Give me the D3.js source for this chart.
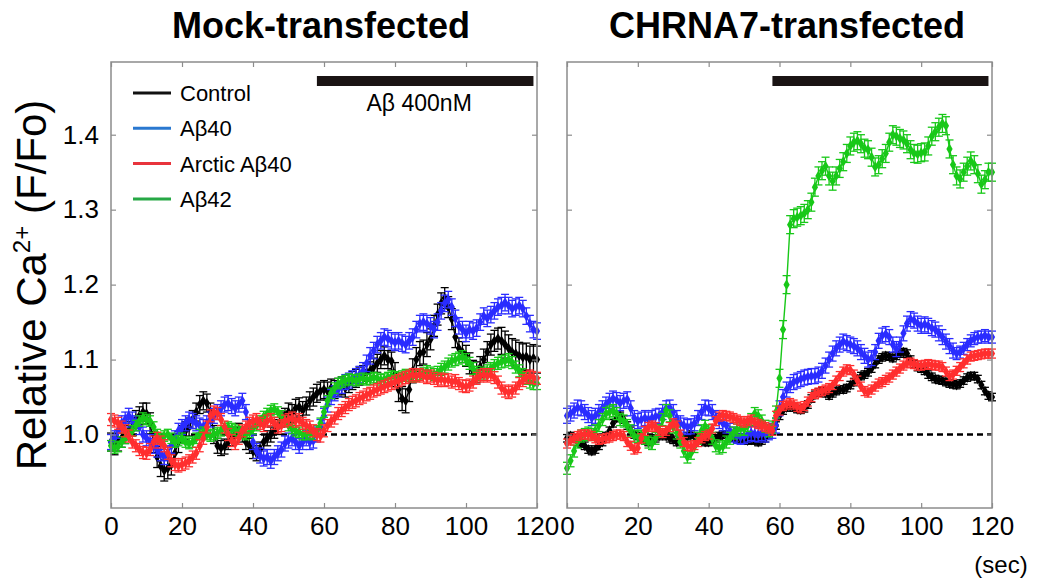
<!DOCTYPE html>
<html>
<head>
<meta charset="utf-8">
<script src="https://cdn.jsdelivr.net/npm/d3@7"></script>
<style>
  body { margin: 0; background: #fff; }
  svg { display: block; font-family: "Liberation Sans", Arial, sans-serif; }
</style>
</head>
<body>
<svg id="chart" width="1039" height="579"></svg>
<script>
// sampling grid: one reading per second, 0..120 s
const timeSec = d3.range(0, 121)
const xTicks = [0, 20, 40, 60, 80, 100, 120]
const yTicks = [1.0, 1.1, 1.2, 1.3, 1.4]
const panelTitles = ['Mock-transfected', 'CHRNA7-transfected']
const seriesNames = ['Control', 'Aβ40', 'Arctic Aβ40', 'Aβ42']
const stimStart = 58
const stimEnd = 119
const stimLabel = 'Aβ 400nM'

// Mock-transfected
const mockControl = [
  0.99, 0.985, 0.99, 0.995, 1.0, 1.005, 1.01, 1.02, 1.025, 1.03,
  1.028, 1.015, 0.99, 0.97, 0.958, 0.952, 0.955, 0.96, 0.975, 0.99,
  1.0, 1.005, 1.01, 1.02, 1.03, 1.04, 1.045, 1.042, 1.03, 1.0,
  0.985, 0.982, 0.984, 0.99, 0.995, 1.0, 1.005, 1.0, 0.99, 0.985,
  0.978, 0.975, 0.98, 0.99, 0.995, 1.0, 1.005, 1.01, 1.02, 1.025,
  1.03, 1.028, 1.035, 1.037, 1.032, 1.038, 1.045, 1.05, 1.055, 1.058,
  1.06, 1.058, 1.062, 1.06, 1.063, 1.065, 1.062, 1.068, 1.072, 1.075,
  1.078, 1.08, 1.083, 1.085, 1.09, 1.095, 1.1, 1.105, 1.1, 1.098,
  1.08, 1.06, 1.048, 1.045, 1.06, 1.085, 1.1, 1.108, 1.11, 1.12,
  1.127, 1.145, 1.16, 1.175, 1.182, 1.17, 1.154, 1.13, 1.115, 1.11,
  1.105, 1.095, 1.085, 1.083, 1.09, 1.1, 1.11, 1.12, 1.125, 1.128,
  1.125, 1.12, 1.115, 1.11, 1.108, 1.105, 1.103, 1.104, 1.1, 1.102,
  1.1
]
const mockAb40 = [
  0.99, 0.995, 1.005, 1.015, 1.02, 1.025, 1.02, 1.015, 1.01, 1.0,
  0.995, 0.99, 0.985, 0.98, 0.975, 0.97, 0.975, 0.985, 0.995, 1.005,
  1.01, 1.015, 1.02, 1.018, 1.015, 1.012, 1.01, 1.015, 1.02, 1.025,
  1.03, 1.035, 1.04, 1.042, 1.038, 1.035, 1.04, 1.045, 1.03, 1.01,
  0.99, 0.978, 0.972, 0.968, 0.97, 0.965, 0.97, 0.975, 0.98, 0.988,
  0.992, 0.995, 0.99, 0.985, 0.99, 0.995, 0.99, 0.992, 1.0, 1.01,
  1.025, 1.04, 1.05, 1.055, 1.06, 1.065, 1.07, 1.072, 1.075, 1.078,
  1.08, 1.085, 1.095, 1.105, 1.112, 1.12, 1.125, 1.13, 1.128, 1.125,
  1.123, 1.125, 1.122, 1.12, 1.125, 1.13, 1.14, 1.148, 1.15, 1.148,
  1.145, 1.14, 1.15, 1.165, 1.175, 1.18, 1.17, 1.155, 1.145, 1.14,
  1.135, 1.14, 1.138, 1.142, 1.15, 1.158, 1.155, 1.16, 1.165, 1.17,
  1.172, 1.176, 1.172, 1.168, 1.17, 1.172, 1.168, 1.158, 1.148, 1.14,
  1.138
]
const mockArctic = [
  1.02, 1.018, 1.015, 1.01, 1.005, 0.998, 0.99, 0.985, 0.98, 0.976,
  0.975, 0.98, 0.99, 0.995, 0.99, 0.985, 0.975, 0.965, 0.96, 0.958,
  0.96, 0.962, 0.965, 0.97, 0.975, 0.985, 0.995, 1.01, 1.025, 1.03,
  1.028, 1.02, 1.01, 1.0, 0.992, 0.988, 0.995, 1.005, 1.01, 1.015,
  1.018, 1.02, 1.015, 1.012, 1.018, 1.02, 1.015, 1.01, 1.012, 1.018,
  1.02, 1.022, 1.018, 1.02, 1.015, 1.012, 1.01, 1.005, 1.0, 0.998,
  1.005, 1.012, 1.018, 1.022, 1.028, 1.032, 1.036, 1.04, 1.043, 1.045,
  1.048, 1.05, 1.053, 1.055, 1.058, 1.06, 1.062, 1.064, 1.066, 1.068,
  1.07, 1.072, 1.074, 1.076, 1.078, 1.08, 1.078, 1.08, 1.078, 1.076,
  1.078, 1.075, 1.072, 1.074, 1.072, 1.073, 1.07, 1.072, 1.068, 1.065,
  1.064, 1.066, 1.07, 1.075, 1.078, 1.08, 1.078, 1.08, 1.076, 1.07,
  1.062, 1.058, 1.056, 1.058, 1.062, 1.068, 1.072, 1.076, 1.078, 1.076,
  1.075
]
const mockAb42 = [
  0.985, 0.982, 0.984, 0.99, 0.995, 1.0, 1.005, 1.012, 1.018, 1.022,
  1.02, 1.018, 1.01, 1.0, 0.995, 0.998, 1.0, 0.995, 0.99, 0.992,
  0.995, 0.99, 0.988, 0.99, 0.995, 1.0, 1.003, 1.0, 0.998, 1.0,
  1.002, 1.005, 1.008, 1.01, 1.008, 1.006, 1.004, 1.002, 1.0, 1.003,
  1.008, 1.012, 1.018, 1.024, 1.028, 1.032, 1.034, 1.03, 1.025, 1.018,
  1.012, 1.008, 1.005, 1.003, 1.0, 1.0, 1.002, 1.0, 1.005, 1.015,
  1.03, 1.045, 1.055, 1.062, 1.068, 1.07, 1.072, 1.074, 1.073, 1.072,
  1.074, 1.075, 1.073, 1.074, 1.076, 1.075, 1.073, 1.074, 1.076, 1.078,
  1.077, 1.076, 1.078, 1.08, 1.078, 1.077, 1.078, 1.08, 1.082, 1.085,
  1.082, 1.08, 1.083, 1.087, 1.09, 1.094, 1.098, 1.1, 1.102, 1.104,
  1.1, 1.095, 1.088, 1.083, 1.08, 1.082, 1.085, 1.088, 1.092, 1.095,
  1.097, 1.098, 1.1, 1.096, 1.09, 1.085, 1.08, 1.075, 1.07, 1.068,
  1.068
]

// CHRNA7-transfected
const chrnaControl = [
  0.995, 0.998, 0.995, 0.99, 0.988, 0.985, 0.98, 0.978, 0.98, 0.985,
  0.99, 0.998, 1.005, 1.015, 1.022, 1.025, 1.02, 1.012, 1.005, 1.0,
  0.998, 0.995, 0.992, 0.99, 0.993, 0.995, 0.998, 1.0, 0.998, 0.995,
  0.993, 0.99, 0.992, 0.995, 0.998, 1.0, 0.997, 0.995, 0.992, 0.99,
  0.99, 0.992, 0.995, 0.998, 1.0, 1.0, 0.998, 0.996, 0.995, 0.994,
  0.993, 0.992, 0.993, 0.992, 0.99, 0.992, 0.995, 1.0, 1.005, 1.012,
  1.025, 1.032, 1.036, 1.038, 1.036, 1.034, 1.033, 1.035, 1.04, 1.048,
  1.053, 1.056, 1.058, 1.055, 1.052, 1.055, 1.058, 1.06, 1.06, 1.062,
  1.066, 1.07, 1.074, 1.078, 1.08, 1.083, 1.088, 1.094, 1.1, 1.103,
  1.105, 1.104, 1.102, 1.105, 1.108, 1.11, 1.108, 1.1, 1.094, 1.09,
  1.088, 1.085, 1.08, 1.077, 1.074, 1.073, 1.072, 1.07, 1.068, 1.067,
  1.066, 1.068, 1.072, 1.076, 1.078, 1.078, 1.074, 1.066, 1.058, 1.052,
  1.05
]
const chrnaAb40 = [
  1.025, 1.028, 1.032, 1.036, 1.035, 1.03, 1.026, 1.022, 1.025, 1.03,
  1.035, 1.04, 1.045, 1.048, 1.046, 1.042, 1.045, 1.047, 1.035, 1.022,
  1.018, 1.02, 1.022, 1.02, 1.022, 1.024, 1.025, 1.03, 1.035, 1.036,
  1.03, 1.022, 1.015, 1.012, 1.01, 1.011, 1.015, 1.022, 1.03, 1.036,
  1.035, 1.03, 1.022, 1.018, 1.015, 1.012, 1.005, 1.0, 0.998, 0.997,
  0.998, 1.0, 1.002, 1.001, 1.0, 1.002, 1.0, 1.003, 1.005, 1.012,
  1.035, 1.05, 1.06, 1.066, 1.07, 1.072, 1.074, 1.076, 1.077, 1.078,
  1.078, 1.08, 1.085, 1.092, 1.1, 1.108, 1.115, 1.12, 1.124, 1.122,
  1.12, 1.118, 1.115, 1.11, 1.105, 1.1, 1.102, 1.11, 1.125, 1.132,
  1.134, 1.13, 1.12, 1.114, 1.12, 1.135, 1.148, 1.154, 1.152, 1.148,
  1.145, 1.147, 1.145, 1.142, 1.14, 1.135, 1.13, 1.124, 1.118, 1.112,
  1.108, 1.11, 1.115, 1.12, 1.125, 1.128, 1.13, 1.13, 1.132, 1.13,
  1.13
]
const chrnaArctic = [
  0.988, 0.992, 0.995, 0.998, 1.0, 1.0, 1.0, 0.998, 0.995, 0.993,
  0.994, 0.995, 0.996, 0.998, 1.0, 1.0, 0.998, 0.99, 0.985, 0.98,
  0.982, 0.995, 1.005, 1.01, 1.012, 1.01, 1.005, 1.002, 1.005, 1.01,
  1.015, 1.012, 1.0, 0.99, 0.985, 0.984, 0.986, 0.99, 0.995, 0.998,
  1.0, 1.008, 1.018, 1.024, 1.026, 1.025, 1.024, 1.022, 1.02, 1.018,
  1.016, 1.018, 1.02, 1.016, 1.014, 1.012, 1.01, 1.008, 1.005, 1.025,
  1.032, 1.038, 1.04, 1.042, 1.04, 1.037, 1.035, 1.038, 1.044, 1.05,
  1.054, 1.056, 1.058, 1.06, 1.062, 1.066, 1.072, 1.078, 1.084, 1.087,
  1.086, 1.08, 1.072, 1.064, 1.058, 1.056, 1.06, 1.064, 1.068, 1.07,
  1.073, 1.076, 1.08, 1.084, 1.088, 1.092, 1.095, 1.096, 1.094, 1.092,
  1.092, 1.093, 1.094, 1.093, 1.092, 1.092, 1.09, 1.084, 1.078, 1.08,
  1.085, 1.09, 1.095, 1.1, 1.104, 1.105, 1.106, 1.107, 1.108, 1.108,
  1.108
]
const chrnaAb42 = [
  0.955, 0.965, 0.978, 0.99, 0.998, 1.0, 1.002, 1.0, 1.005, 1.012,
  1.02, 1.028, 1.03, 1.032, 1.028, 1.02, 1.018, 1.012, 1.005, 0.998,
  0.997, 0.998, 0.995, 0.99, 0.988, 0.995, 1.005, 1.02, 1.032, 1.025,
  1.01, 1.002, 0.99, 0.978, 0.97, 0.975, 0.984, 0.995, 1.005, 1.011,
  1.005, 0.995, 0.985, 0.982, 0.984, 0.99, 0.995, 1.002, 1.006, 1.008,
  1.007, 1.012, 1.02, 1.028, 1.025, 1.018, 1.011, 1.005, 1.01, 1.03,
  1.075, 1.14, 1.2, 1.28, 1.288, 1.29, 1.292, 1.295, 1.3, 1.31,
  1.33, 1.345, 1.352, 1.358, 1.345, 1.338, 1.345, 1.355, 1.364, 1.375,
  1.385, 1.39, 1.392, 1.388, 1.382, 1.38, 1.37, 1.357, 1.36, 1.368,
  1.375, 1.39, 1.4, 1.398, 1.395, 1.393, 1.388, 1.38, 1.375, 1.374,
  1.376, 1.377, 1.385, 1.398, 1.404, 1.41, 1.415, 1.412, 1.381, 1.36,
  1.345, 1.341, 1.35, 1.358, 1.365, 1.36, 1.348, 1.334, 1.34, 1.35,
  1.35
]

// SEM, one value per 10 s block (0-9, 10-19, ..., 120)
const mockControlErr = [0.012, 0.014, 0.012, 0.01, 0.01, 0.012, 0.012, 0.012, 0.016, 0.014, 0.014, 0.018, 0.018]
const mockAb40Err = [0.01, 0.01, 0.01, 0.01, 0.01, 0.01, 0.01, 0.011, 0.011, 0.011, 0.011, 0.011, 0.011]
const mockArcticErr = [0.008, 0.008, 0.008, 0.008, 0.008, 0.008, 0.008, 0.008, 0.008, 0.008, 0.008, 0.008, 0.008]
const mockAb42Err = [0.007, 0.007, 0.007, 0.007, 0.007, 0.007, 0.007, 0.007, 0.007, 0.008, 0.008, 0.008, 0.008]
const chrnaControlErr = [0.005, 0.005, 0.005, 0.005, 0.005, 0.005, 0.005, 0.005, 0.005, 0.005, 0.005, 0.005, 0.005]
const chrnaAb40Err = [0.01, 0.01, 0.01, 0.01, 0.01, 0.01, 0.01, 0.01, 0.01, 0.01, 0.01, 0.008, 0.008]
const chrnaArcticErr = [0.006, 0.006, 0.006, 0.006, 0.006, 0.006, 0.006, 0.006, 0.006, 0.006, 0.006, 0.006, 0.006]
const chrnaAb42Err = [0.008, 0.008, 0.008, 0.008, 0.008, 0.008, 0.012, 0.012, 0.012, 0.012, 0.012, 0.012, 0.012]

const dataColors = ['#000000', '#2a2cff', '#ff2e2e', '#18c818']
const legendColors = ['#111111', '#2a78d0', '#e8343c', '#26a845']

const panels = [
  { title: panelTitles[0], titleX: 321, left: 111, right: 537, showLegend: true,
    series: [mockControl, mockAb40, mockArctic, mockAb42],
    errs: [mockControlErr, mockAb40Err, mockArcticErr, mockAb42Err] },
  { title: panelTitles[1], titleX: 787, left: 567, right: 992, showLegend: false,
    series: [chrnaControl, chrnaAb40, chrnaArctic, chrnaAb42],
    errs: [chrnaControlErr, chrnaAb40Err, chrnaArcticErr, chrnaAb42Err] }
]

const plotTop = 62
const plotBottom = 508
const frameColor = '#8c8c8c'
const drawOrder = [0, 1, 3, 2]

let svg = d3.select('#chart')

let y = d3.scaleLinear().domain([0.902, 1.497]).range([plotBottom, plotTop])

let drawPanel = (p, panelIndex) => {
  let x = d3.scaleLinear().domain([0, 120]).range([p.left, p.right])
  let g = svg.append('g')

  // title
  svg.append('text')
    .attr('x', p.titleX)
    .attr('y', 38)
    .attr('text-anchor', 'middle')
    .attr('font-size', 36)
    .attr('font-weight', 'bold')
    .text(p.title)

  // dashed baseline at 1.0
  g.append('line')
    .attr('x1', x(0)).attr('x2', x(120))
    .attr('y1', y(1.0)).attr('y2', y(1.0))
    .attr('stroke', '#000')
    .attr('stroke-width', 2.5)
    .attr('stroke-dasharray', '6,4')

  // series
  drawOrder.forEach(si => {
    let vals = p.series[si]
    let errs = p.errs[si]
    let pts = timeSec.map((t, i) => ({ t: t, v: vals[i], e: errs[Math.floor(t / 10)] }))
    let color = dataColors[si]
    let sg = g.append('g')

    sg.append('path')
      .datum(pts)
      .attr('fill', 'none')
      .attr('stroke', color)
      .attr('stroke-width', 1.4)
      .attr('d', d3.line().x(d => x(d.t)).y(d => y(d.v)))

    let eb = sg.selectAll('g.err').data(pts).enter().append('g')
      .attr('stroke', color)
      .attr('stroke-width', 1.3)
    eb.append('line')
      .attr('x1', d => x(d.t)).attr('x2', d => x(d.t))
      .attr('y1', d => y(d.v - d.e)).attr('y2', d => y(d.v + d.e))
    eb.append('line')
      .attr('x1', d => x(d.t) - 4).attr('x2', d => x(d.t) + 4)
      .attr('y1', d => y(d.v - d.e)).attr('y2', d => y(d.v - d.e))
    eb.append('line')
      .attr('x1', d => x(d.t) - 4).attr('x2', d => x(d.t) + 4)
      .attr('y1', d => y(d.v + d.e)).attr('y2', d => y(d.v + d.e))

    sg.selectAll('path.mk').data(pts).enter().append('path')
      .attr('class', 'mk')
      .attr('d', d3.symbol(d3.symbolDiamond, 34))
      .attr('transform', d => 'translate(' + x(d.t) + ',' + y(d.v) + ')')
      .attr('fill', color)
  })

  // stimulus bar
  g.append('rect')
    .attr('x', x(stimStart))
    .attr('y', 76)
    .attr('width', x(stimEnd) - x(stimStart))
    .attr('height', 10)
    .attr('fill', '#1a1414')

  if (p.showLegend) {
    g.append('text')
      .attr('x', (x(stimStart) + x(stimEnd)) / 2 - 6)
      .attr('y', 111)
      .attr('text-anchor', 'middle')
      .attr('font-size', 23)
      .text(stimLabel)

    seriesNames.forEach((name, i) => {
      let ly = 93 + i * 35.3
      g.append('line')
        .attr('x1', 133).attr('x2', 171)
        .attr('y1', ly).attr('y2', ly)
        .attr('stroke', legendColors[i])
        .attr('stroke-width', 3)
      g.append('text')
        .attr('x', 180)
        .attr('y', ly + 8)
        .attr('font-size', 22)
        .text(name)
    })
  }

  // frame
  g.append('rect')
    .attr('x', p.left).attr('y', plotTop)
    .attr('width', p.right - p.left).attr('height', plotBottom - plotTop)
    .attr('fill', 'none')
    .attr('stroke', frameColor)
    .attr('stroke-width', 1.5)

  // axes with inward ticks (mirrored on all sides)
  let axB = g.append('g').attr('transform', 'translate(0,' + plotBottom + ')')
    .call(d3.axisBottom(x).tickValues(xTicks).tickSize(-5).tickPadding(9).tickFormat(d3.format('d')))
  let axT = g.append('g').attr('transform', 'translate(0,' + plotTop + ')')
    .call(d3.axisTop(x).tickValues(xTicks).tickSize(-5).tickFormat(''))
  let axL = g.append('g').attr('transform', 'translate(' + p.left + ',0)')
    .call(d3.axisLeft(y).tickValues(yTicks).tickSize(-5).tickPadding(12).tickFormat(d3.format('.1f')))
  let axR = g.append('g').attr('transform', 'translate(' + p.right + ',0)')
    .call(d3.axisRight(y).tickValues(yTicks).tickSize(-5).tickFormat(''))

  ;[axB, axT, axL, axR].forEach(a => {
    a.select('.domain').remove()
    a.selectAll('line').attr('stroke', frameColor).attr('stroke-width', 1.2)
    a.selectAll('text').attr('fill', '#000').attr('font-size', 26)
      .attr('font-family', '"Liberation Sans", Arial, sans-serif')
  })
  if (panelIndex === 1) axL.selectAll('text').remove()
}

panels.forEach(drawPanel)

// y-axis label
svg.append('text')
  .attr('transform', 'translate(46,' + 285 + ')rotate(-90)')
  .attr('text-anchor', 'middle')
  .attr('font-size', 42)
  .html('Relative Ca<tspan dy="-16" font-size="24">2+</tspan><tspan dy="16"> (F/Fo)</tspan>')

// x unit
svg.append('text')
  .attr('x', 1001)
  .attr('y', 573)
  .attr('text-anchor', 'middle')
  .attr('font-size', 24)
  .text('(sec)')
</script>
</body>
</html>
